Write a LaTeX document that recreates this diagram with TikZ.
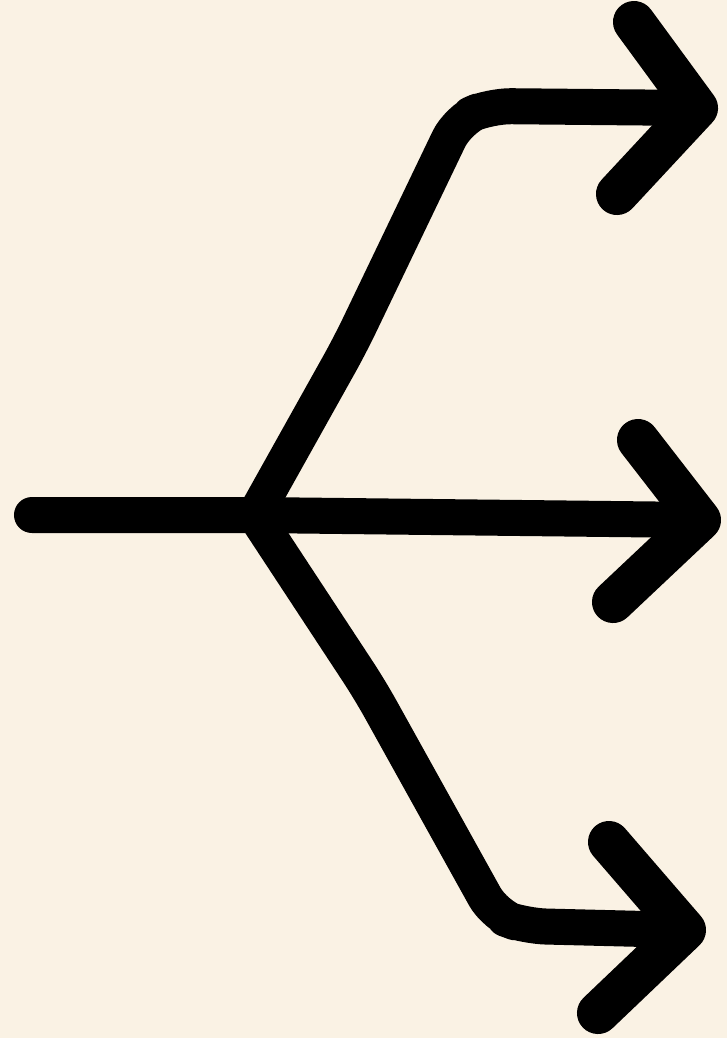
\documentclass[tikz,border=0pt]{standalone}
\definecolor{paper}{HTML}{FAF2E4}
\tikzset{
  stroke/.style={line width=0.36cm, line cap=round, line join=round},
  headstroke/.style={stroke, line width=0.42cm},
}
\begin{document}
\begin{tikzpicture}[x=0.01cm, y=-0.01cm]
            \fill[paper] (0,0) rectangle (727,1038);
            \coordinate (start) at (32,515);
            \coordinate (hub) at (255,515);
            \coordinate (upbend) at (458,120);
            \coordinate (uptip) at (697,108);
            \coordinate (midtip) at (700,520);
            \coordinate (lowbend) at (495,915);
            \coordinate (lowtip) at (685,930);
            % stems
            \draw[stroke] (start) -- (hub) -- (midtip);
            \draw[stroke, rounded corners=6pt] (hub) -- (350,345) -- (upbend)
              -- (490,106) -- (uptip);
            \draw[stroke, rounded corners=6pt] (hub) -- (370,690) -- (lowbend)
              -- (525,926) -- (lowtip);
            % heads
            \draw[headstroke] (634,22) -- (uptip) -- (617,194);
            \draw[headstroke] (638,440) -- (midtip) -- (613,602);
            \draw[headstroke] (609,842) -- (lowtip) -- (598,1013);
          \end{tikzpicture}
\end{document}
